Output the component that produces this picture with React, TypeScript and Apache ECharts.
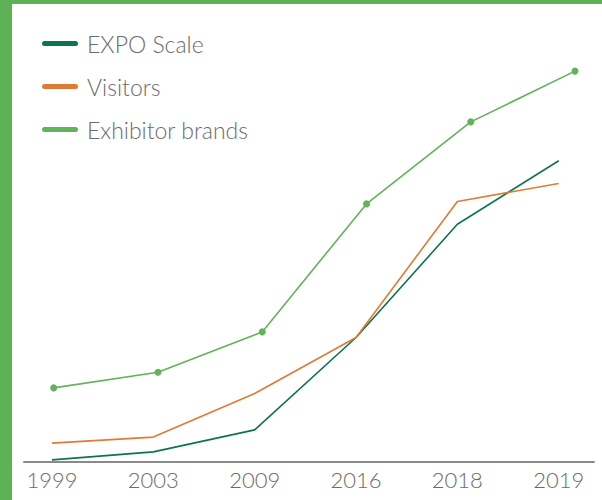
import React, { useEffect, useRef } from "react";
import * as echarts from "echarts";

const years = ["1999", "2003", "2009", "2016", "2018", "2019"];
const expoScale = [0.4, 2.4, 7.9, 31, 59.3, 75.2];
const visitors = [4.6, 6.1, 17, 31, 65, 69.5];
const exhibitorBrands = [18.4, 22.3, 32.4, 64.4, 84.9, 97.6];
const seriesNames = ["EXPO Scale", "Visitors", "Exhibitor brands"];

const FONT = "Lato";
const TEXT = "#6b6b6b";
const C_DARK = "#0b7450";
const C_ORANGE = "#e07a36";
const C_GREEN = "#62b35a";
const BORDER = "#5db257";

const pill = "path://M2.5,0 L33.5,0 A2.5,2.5 0 0 1 33.5,5 L2.5,5 A2.5,2.5 0 0 1 2.5,0 Z";

export default function App() {
  const ref = useRef<HTMLDivElement>(null);
  useEffect(() => {
    document.body.style.margin = "0";
    const chart = echarts.init(ref.current!, undefined, { renderer: "svg" });
    const top = 61.5;
    const bottom = 38.5;
    chart.setOption({
      animation: false,
      backgroundColor: "#ffffff",
      graphic: [
        { type: "rect", left: 0, top: 0, shape: { width: 12, height: 500 }, style: { fill: BORDER } },
        { type: "rect", left: 0, top: 0, shape: { width: 602, height: 4 }, style: { fill: BORDER } },
      ],
      legend: {
        orient: "vertical",
        left: 42,
        top: 32,
        padding: 0,
        itemWidth: 36,
        itemHeight: 5,
        itemGap: 20,
        icon: pill,
        data: seriesNames,
        textStyle: { fontFamily: FONT, fontSize: 23, fontWeight: 300, color: TEXT, padding: [0, 0, 0, 4] },
      },
      grid: [
        { left: 52, right: 43.3, top, bottom },
        { left: 53.7, right: 27, top, bottom },
        { left: 24, right: 8, top, bottom },
      ],
      xAxis: [
        {
          type: "category",
          gridIndex: 0,
          data: years,
          boundaryGap: false,
          axisLine: { show: false },
          axisTick: { show: false },
          axisLabel: { margin: 7, fontFamily: FONT, fontSize: 22, fontWeight: 300, color: TEXT },
        },
        {
          type: "category",
          gridIndex: 1,
          data: years,
          boundaryGap: false,
          show: false,
        },
        {
          type: "value",
          gridIndex: 2,
          min: 0,
          max: 1,
          axisLine: { show: true, lineStyle: { color: "#8a8a8a", width: 2 } },
          axisTick: { show: false },
          axisLabel: { show: false },
          splitLine: { show: false },
        },
      ],
      yAxis: [0, 1, 2].map((i) => ({
        type: "value",
        gridIndex: i,
        min: 0,
        max: 100,
        show: false,
        splitLine: { show: false },
      })),
      series: [
        {
          name: seriesNames[0],
          type: "line",
          xAxisIndex: 0,
          yAxisIndex: 0,
          data: expoScale,
          symbol: "none",
          lineStyle: { color: C_DARK, width: 1.6 },
          itemStyle: { color: C_DARK },
        },
        {
          name: seriesNames[1],
          type: "line",
          xAxisIndex: 0,
          yAxisIndex: 0,
          data: visitors,
          symbol: "none",
          lineStyle: { color: C_ORANGE, width: 1.6 },
          itemStyle: { color: C_ORANGE },
        },
        {
          name: seriesNames[2],
          type: "line",
          xAxisIndex: 1,
          yAxisIndex: 1,
          data: exhibitorBrands,
          symbol: "circle",
          symbolSize: 7,
          lineStyle: { color: C_GREEN, width: 1.6 },
          itemStyle: { color: C_GREEN },
        },
      ],
    });
    return () => chart.dispose();
  }, []);
  return <div ref={ref} style={{ width: 602, height: 500 }} />;
}
